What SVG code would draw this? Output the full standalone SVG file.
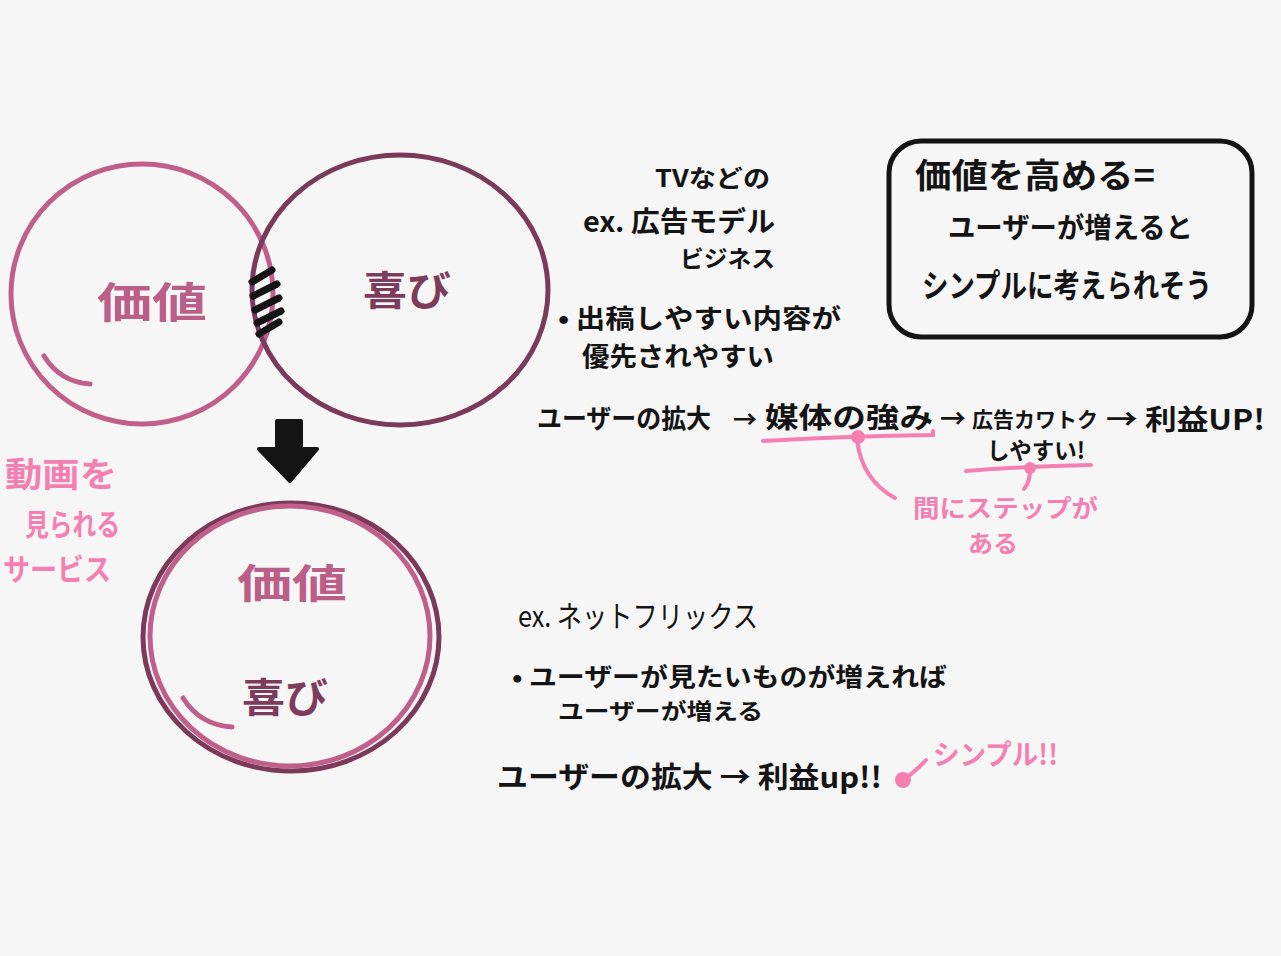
<svg xmlns="http://www.w3.org/2000/svg" width="1281" height="956" viewBox="0 0 1281 956">
<style>
.t{font-family:"Noto Sans CJK JP","Noto Sans",sans-serif;font-weight:700;fill:#141414}
.p{fill:#f47fb0}
.pk{stroke:#f47fb0;fill:none;stroke-width:4;stroke-linecap:round}
.c1{fill:none;stroke:#c0608a;stroke-width:5}
.c2{fill:none;stroke:#7b3a5a;stroke-width:5}
</style>
<rect width="1281" height="956" fill="#f6f6f6"/>
<g id="venn-value">
<ellipse class="c1" cx="142" cy="294" rx="131" ry="130"/>
<path class="c1" d="M44 356 Q60 382 90 384" stroke-linecap="round"/>
<text class="t" x="97" y="318" font-size="42" textLength="110" lengthAdjust="spacingAndGlyphs" style="fill:#bb5e88">価値</text>
</g>
<g id="venn-joy">
<ellipse class="c2" cx="400" cy="290" rx="148" ry="135"/>
<text class="t" x="363" y="305" font-size="40" textLength="88" lengthAdjust="spacingAndGlyphs" style="fill:#7e3c5c">喜び</text>
</g>
<g id="overlap-hatch" stroke="#141414" stroke-width="7" stroke-linecap="round">
<line x1="252" y1="282" x2="272" y2="270"/>
<line x1="253" y1="296" x2="277" y2="284"/>
<line x1="255" y1="310" x2="279" y2="298"/>
<line x1="257" y1="323" x2="281" y2="311"/>
<line x1="259" y1="334" x2="279" y2="322"/>
</g>
<g id="merged">
<ellipse class="c2" cx="291" cy="637" rx="148" ry="134"/>
<ellipse class="c1" cx="290" cy="636" rx="140" ry="130"/>
<path class="c1" d="M183 698 Q200 725 232 727" stroke-linecap="round"/>
<text class="t" x="237" y="598" font-size="40" textLength="110" lengthAdjust="spacingAndGlyphs" style="fill:#bb5e88">価値</text>
<text class="t" x="242" y="712" font-size="40" textLength="86" lengthAdjust="spacingAndGlyphs" style="fill:#7e3c5c">喜び</text>
</g>
<g id="service-note">
<text class="t p" x="5" y="487" font-size="34" textLength="112" lengthAdjust="spacingAndGlyphs">動画を</text>
<text class="t p" x="25" y="535" font-size="30" textLength="95" lengthAdjust="spacingAndGlyphs">見られる</text>
<text class="t p" x="3" y="580" font-size="30" textLength="108" lengthAdjust="spacingAndGlyphs">サービス</text>
</g>
<g id="tv-ad">
<text class="t" x="655" y="187" font-size="24" textLength="115" lengthAdjust="spacingAndGlyphs">TVなどの</text>
<text class="t" x="583" y="232" font-size="28" textLength="192" lengthAdjust="spacingAndGlyphs">ex. 広告モデル</text>
<text class="t" x="680" y="267" font-size="23" textLength="95" lengthAdjust="spacingAndGlyphs">ビジネス</text>
<text class="t" x="558" y="328" font-size="26" textLength="283" lengthAdjust="spacingAndGlyphs">• 出稿しやすい内容が</text>
<text class="t" x="582" y="366" font-size="26" textLength="192" lengthAdjust="spacingAndGlyphs">優先されやすい</text>
</g>
<g id="tv-flow">
<text class="t" x="537" y="428" font-size="26" textLength="174" lengthAdjust="spacingAndGlyphs">ユーザーの拡大</text>
<text class="t" x="733" y="428" font-size="24">→</text>
<text class="t" x="765" y="428" font-size="28" textLength="168" lengthAdjust="spacingAndGlyphs">媒体の強み</text>
<text class="t" x="940" y="428" font-size="26">→</text>
<text class="t" x="972" y="427" font-size="21">広告カワトク</text>
<text class="t" x="987" y="459" font-size="23" textLength="98" lengthAdjust="spacingAndGlyphs">しやすい!</text>
<text class="t" x="1106" y="430" font-size="28" textLength="159" lengthAdjust="spacingAndGlyphs">→ 利益UP!</text>
</g>
<g id="step-note">
<text class="t p" x="913" y="517" font-size="24" textLength="185" lengthAdjust="spacingAndGlyphs">間にステップが</text>
<text class="t p" x="968" y="552" font-size="24" textLength="50" lengthAdjust="spacingAndGlyphs">ある</text>
</g>
<g id="summary-box">
<rect x="889" y="141" width="363" height="196" rx="32" fill="none" stroke="#141414" stroke-width="5"/>
<text class="t" x="915" y="188" font-size="34" textLength="240" lengthAdjust="spacingAndGlyphs">価値を高める=</text>
<text class="t" x="948" y="238" font-size="28" textLength="245" lengthAdjust="spacingAndGlyphs">ユーザーが増えると</text>
<text class="t" x="922" y="297" font-size="32" textLength="290" lengthAdjust="spacingAndGlyphs">シンプルに考えられそう</text>
</g>
<g id="netflix">
<text class="t" x="518" y="627" font-size="30" style="font-weight:400" textLength="240" lengthAdjust="spacingAndGlyphs">ex. ネットフリックス</text>
<text class="t" x="512" y="686" font-size="25" textLength="435" lengthAdjust="spacingAndGlyphs">• ユーザーが見たいものが増えれば</text>
<text class="t" x="558" y="719" font-size="22" textLength="205" lengthAdjust="spacingAndGlyphs">ユーザーが増える</text>
<text class="t" x="497" y="788" font-size="29" textLength="385" lengthAdjust="spacingAndGlyphs">ユーザーの拡大 → 利益up!!</text>
<text class="t p" x="933" y="765" font-size="28" textLength="125" lengthAdjust="spacingAndGlyphs">シンプル!!</text>
</g>
<g id="connectors">
<path d="M277 421 L301 421 L301 449 L317 449 L290 481 L259 449 L277 449 Z" fill="#141414" stroke="#141414" stroke-width="4" stroke-linejoin="round"/>
<path class="pk" d="M763 441 Q850 436 933 435 L933 431"/>
<circle cx="858" cy="437" r="7" fill="#f47fb0"/>
<path class="pk" d="M857 440 Q862 480 895 498"/>
<path class="pk" d="M966 471 Q1030 466 1091 465"/>
<circle cx="1030" cy="468" r="6" fill="#f47fb0"/>
<path class="pk" d="M1030 470 Q1030 482 1024 489"/>
<circle cx="903" cy="780" r="8" fill="#f47fb0"/>
<path class="pk" d="M903 780 Q915 772 926 760"/>
</g>
</svg>
